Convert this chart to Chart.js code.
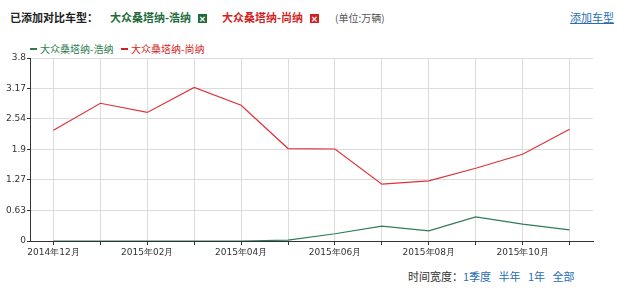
<!DOCTYPE html>
<html>
<head>
<meta charset="utf-8">
<script src="https://cdn.jsdelivr.net/npm/chart.js@4/dist/chart.umd.min.js"></script>
<style>
body { margin: 0; background: #fff; font-family: "Noto Sans CJK SC", sans-serif; width: 629px; height: 295px; position: relative; overflow: hidden; }
.abs { position: absolute; white-space: nowrap; }
.x { display: inline-block; width: 9px; height: 9px; color: #fff; font-size: 8px; line-height: 9px; text-align: center; vertical-align: 0px; margin-left: 7px; }
#wrap { position: absolute; left: 0; top: 50px; width: 629px; height: 215px; }
</style>
</head>
<body>
<div class="abs" style="left:10px;top:9px;font-size:11px;font-weight:bold;color:#222;">已添加对比车型：</div>
<div class="abs" style="left:110px;top:9px;font-size:11px;font-weight:bold;color:#1e6b3a;">大众桑塔纳-浩纳<span class="x" style="background:#1e6b3a;">✕</span></div>
<div class="abs" style="left:222px;top:9px;font-size:11px;font-weight:bold;color:#d21f1f;">大众桑塔纳-尚纳<span class="x" style="background:#d21f1f;">✕</span></div>
<div class="abs" style="left:335px;top:10px;font-size:10px;color:#555;">(单位:万辆)</div>
<div class="abs" style="left:570px;top:9px;font-size:11px;color:#2a6db5;text-decoration:underline;">添加车型</div>
<div class="abs" style="left:30px;top:41px;font-size:10px;color:#2e7d4f;"><span style="display:inline-block;width:7px;height:2px;background:#2e7d4f;vertical-align:3px;margin-right:3px;"></span>大众桑塔纳-浩纳</div>
<div class="abs" style="left:121px;top:41px;font-size:10px;color:#d21f1f;"><span style="display:inline-block;width:7px;height:2px;background:#d21f1f;vertical-align:3px;margin-right:3px;"></span>大众桑塔纳-尚纳</div>
<div class="abs" style="left:408px;top:268px;font-size:11px;color:#333;">时间宽度：<span style="color:#2a6db5;">1季度&nbsp;&nbsp;&nbsp;半年&nbsp;&nbsp;&nbsp;1年&nbsp;&nbsp;&nbsp;全部</span></div>
<div id="wrap"><canvas id="myChart"></canvas></div>
<script>
const months = ['2014年12月', '2015年01月', '2015年02月', '2015年03月', '2015年04月', '2015年05月',
    '2015年06月', '2015年07月', '2015年08月', '2015年09月', '2015年10月', '2015年11月'];
const haona = [0, 0, 0, 0, 0, 0.02, 0.15, 0.31, 0.21, 0.50, 0.35, 0.23];
const shangna = [2.30, 2.86, 2.67, 3.19, 2.82, 1.92, 1.91, 1.18, 1.25, 1.51, 1.80, 2.32];
const yTicks = [0, 0.63, 1.27, 1.9, 2.54, 3.17, 3.8];

const ctx = document.getElementById('myChart').getContext('2d');
new Chart(ctx, {
    type: 'line',
    data: {
        labels: months,
        datasets: [{
            label: '大众桑塔纳-浩纳',
            data: haona,
            borderColor: '#2e7d57',
            borderWidth: 1.2,
            pointRadius: 0,
            tension: 0
        }, {
            label: '大众桑塔纳-尚纳',
            data: shangna,
            borderColor: '#e0303a',
            borderWidth: 1.2,
            pointRadius: 0,
            tension: 0
        }]
    },
    options: {
        responsive: true,
        maintainAspectRatio: false,
        animation: false,
        layout: { padding: { top: 8, right: 36, left: 0, bottom: 0 } },
        plugins: { legend: { display: false }, tooltip: { enabled: false } },
        scales: {
            x: {
                offset: true,
                grid: { offset: false, color: '#dcdcdc', tickColor: '#333', tickLength: 4, drawOnChartArea: true },
                border: { color: '#333', width: 1 },
                ticks: {
                    autoSkip: false, maxRotation: 0, color: '#333', padding: 2,
                    font: { family: 'DejaVu Sans', size: 9 },
                    callback: (v, i) => (i % 2 === 0 ? months[i] : '')
                },
                afterFit: (s) => { s.height = 24; }
            },
            y: {
                min: 0, max: 3.8,
                afterBuildTicks: (s) => { s.ticks = yTicks.map(v => ({ value: v })); },
                grid: { color: '#dcdcdc', tickColor: '#333', tickLength: 3 },
                border: { color: '#333', width: 1 },
                ticks: { color: '#333', padding: 1, font: { family: 'DejaVu Sans', size: 9 }, callback: (v) => String(v) },
                afterFit: (s) => { s.width = 30; }
            }
        }
    }
});
</script>
</body>
</html>
